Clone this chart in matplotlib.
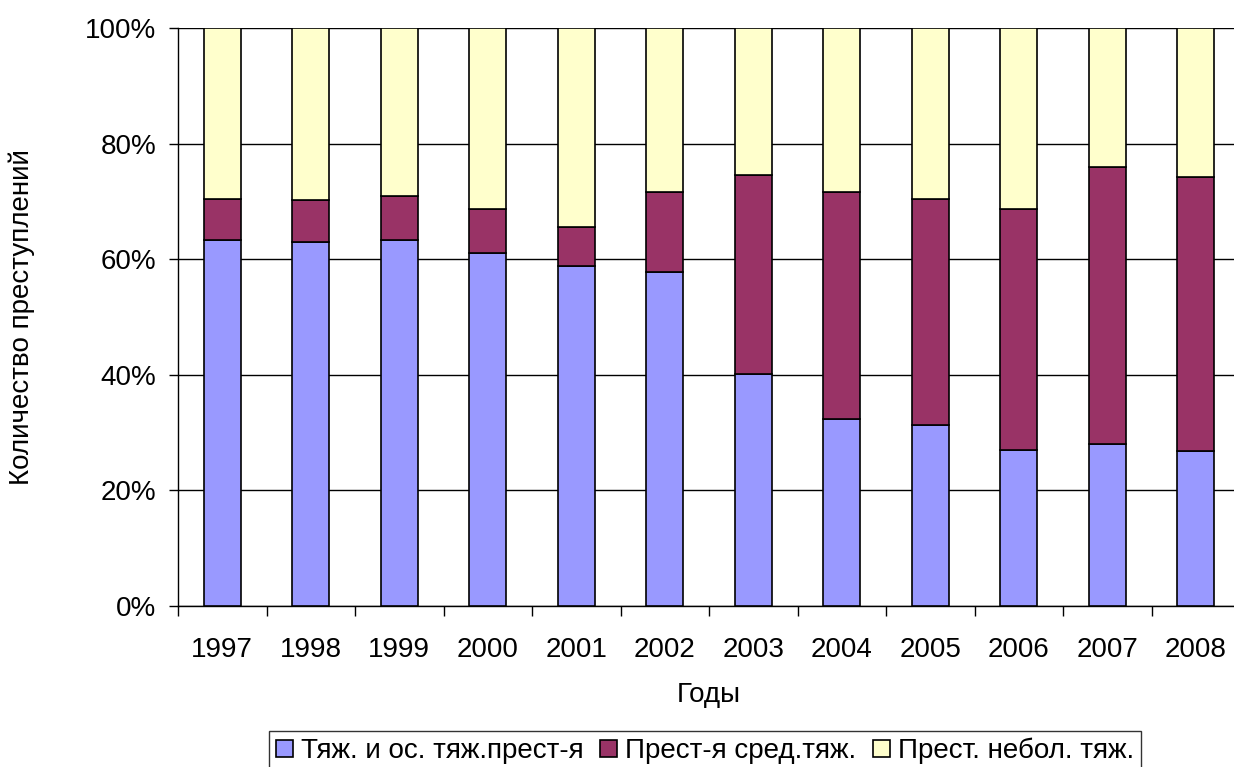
import numpy as np
import matplotlib.pyplot as plt
from matplotlib.ticker import FuncFormatter

plt.rcParams['font.family'] = ['Liberation Sans', 'DejaVu Sans']

years = ['1997', '1998', '1999', '2000', '2001', '2002',
         '2003', '2004', '2005', '2006', '2007', '2008']
# доли, %
tyazh = [63.3, 62.9, 63.4, 61.1, 58.8, 57.7, 40.2, 32.3, 31.3, 27.0, 28.1, 26.8]
sred_top = [70.4, 70.2, 71.0, 68.7, 65.5, 71.6, 74.5, 71.6, 70.4, 68.6, 76.0, 74.3]
sred = [s - t for s, t in zip(sred_top, tyazh)]
nebol = [100 - s for s in sred_top]

labels = ['Тяж. и ос. тяж.прест-я', 'Прест-я сред.тяж.', 'Прест. небол. тяж.']
colors = ['#9999FF', '#993366', '#FFFFCC']

fs = 20

fig = plt.figure(figsize=(12.34, 7.67), dpi=100)
ax = fig.add_axes([178 / 1234, 1 - 606 / 767, 1062 / 1234, 578 / 767])

x = np.arange(len(years))
w = 0.42
b1 = ax.bar(x, tyazh, w, color=colors[0], edgecolor='black', linewidth=1.2, zorder=3, label=labels[0])
b2 = ax.bar(x, sred, w, bottom=tyazh, color=colors[1], edgecolor='black', linewidth=1.2, zorder=3, label=labels[1])
b3 = ax.bar(x, nebol, w, bottom=sred_top, color=colors[2], edgecolor='black', linewidth=1.2, zorder=3, label=labels[2])

ax.set_xlim(-0.5, len(years) - 0.5)
ax.set_ylim(0, 100)
ax.set_yticks(range(0, 101, 20))
ax.yaxis.set_major_formatter(FuncFormatter(lambda v, p: '%d%%' % v))
ax.yaxis.grid(True, color='black', linewidth=1)
ax.set_axisbelow(True)

ax.set_xticks(x)
ax.set_xticklabels(years)
ax.set_xticks(np.arange(-0.5, len(years), 1), minor=True)
ax.tick_params(axis='x', which='major', length=0, pad=22, labelsize=fs)
ax.tick_params(axis='x', which='minor', length=7, width=1, direction='out')
ax.tick_params(axis='y', length=6.5, width=1, direction='out', pad=9, labelsize=fs)

for s in ['top', 'right']:
    ax.spines[s].set_visible(False)
ax.spines['left'].set_linewidth(1)
ax.spines['bottom'].set_linewidth(1)

ax.set_xlabel('Годы', fontsize=fs, labelpad=14)
fig.text(22 / 1234, 1 - 317 / 767, 'Количество преступлений', rotation=90,
         fontsize=fs, ha='center', va='center')

leg = fig.legend(handles=[b1, b2, b3], loc='upper left', bbox_to_anchor=(269 / 1234, 1 - 731 / 767),
                 ncol=3, fontsize=fs, frameon=True, fancybox=False, edgecolor='black',
                 handlelength=0.6, handleheight=0.6, handletextpad=0.3, columnspacing=0.6,
                 borderpad=0.25, borderaxespad=0)
leg.get_frame().set_linewidth(1)

fig.savefig('out.png', dpi=100)
